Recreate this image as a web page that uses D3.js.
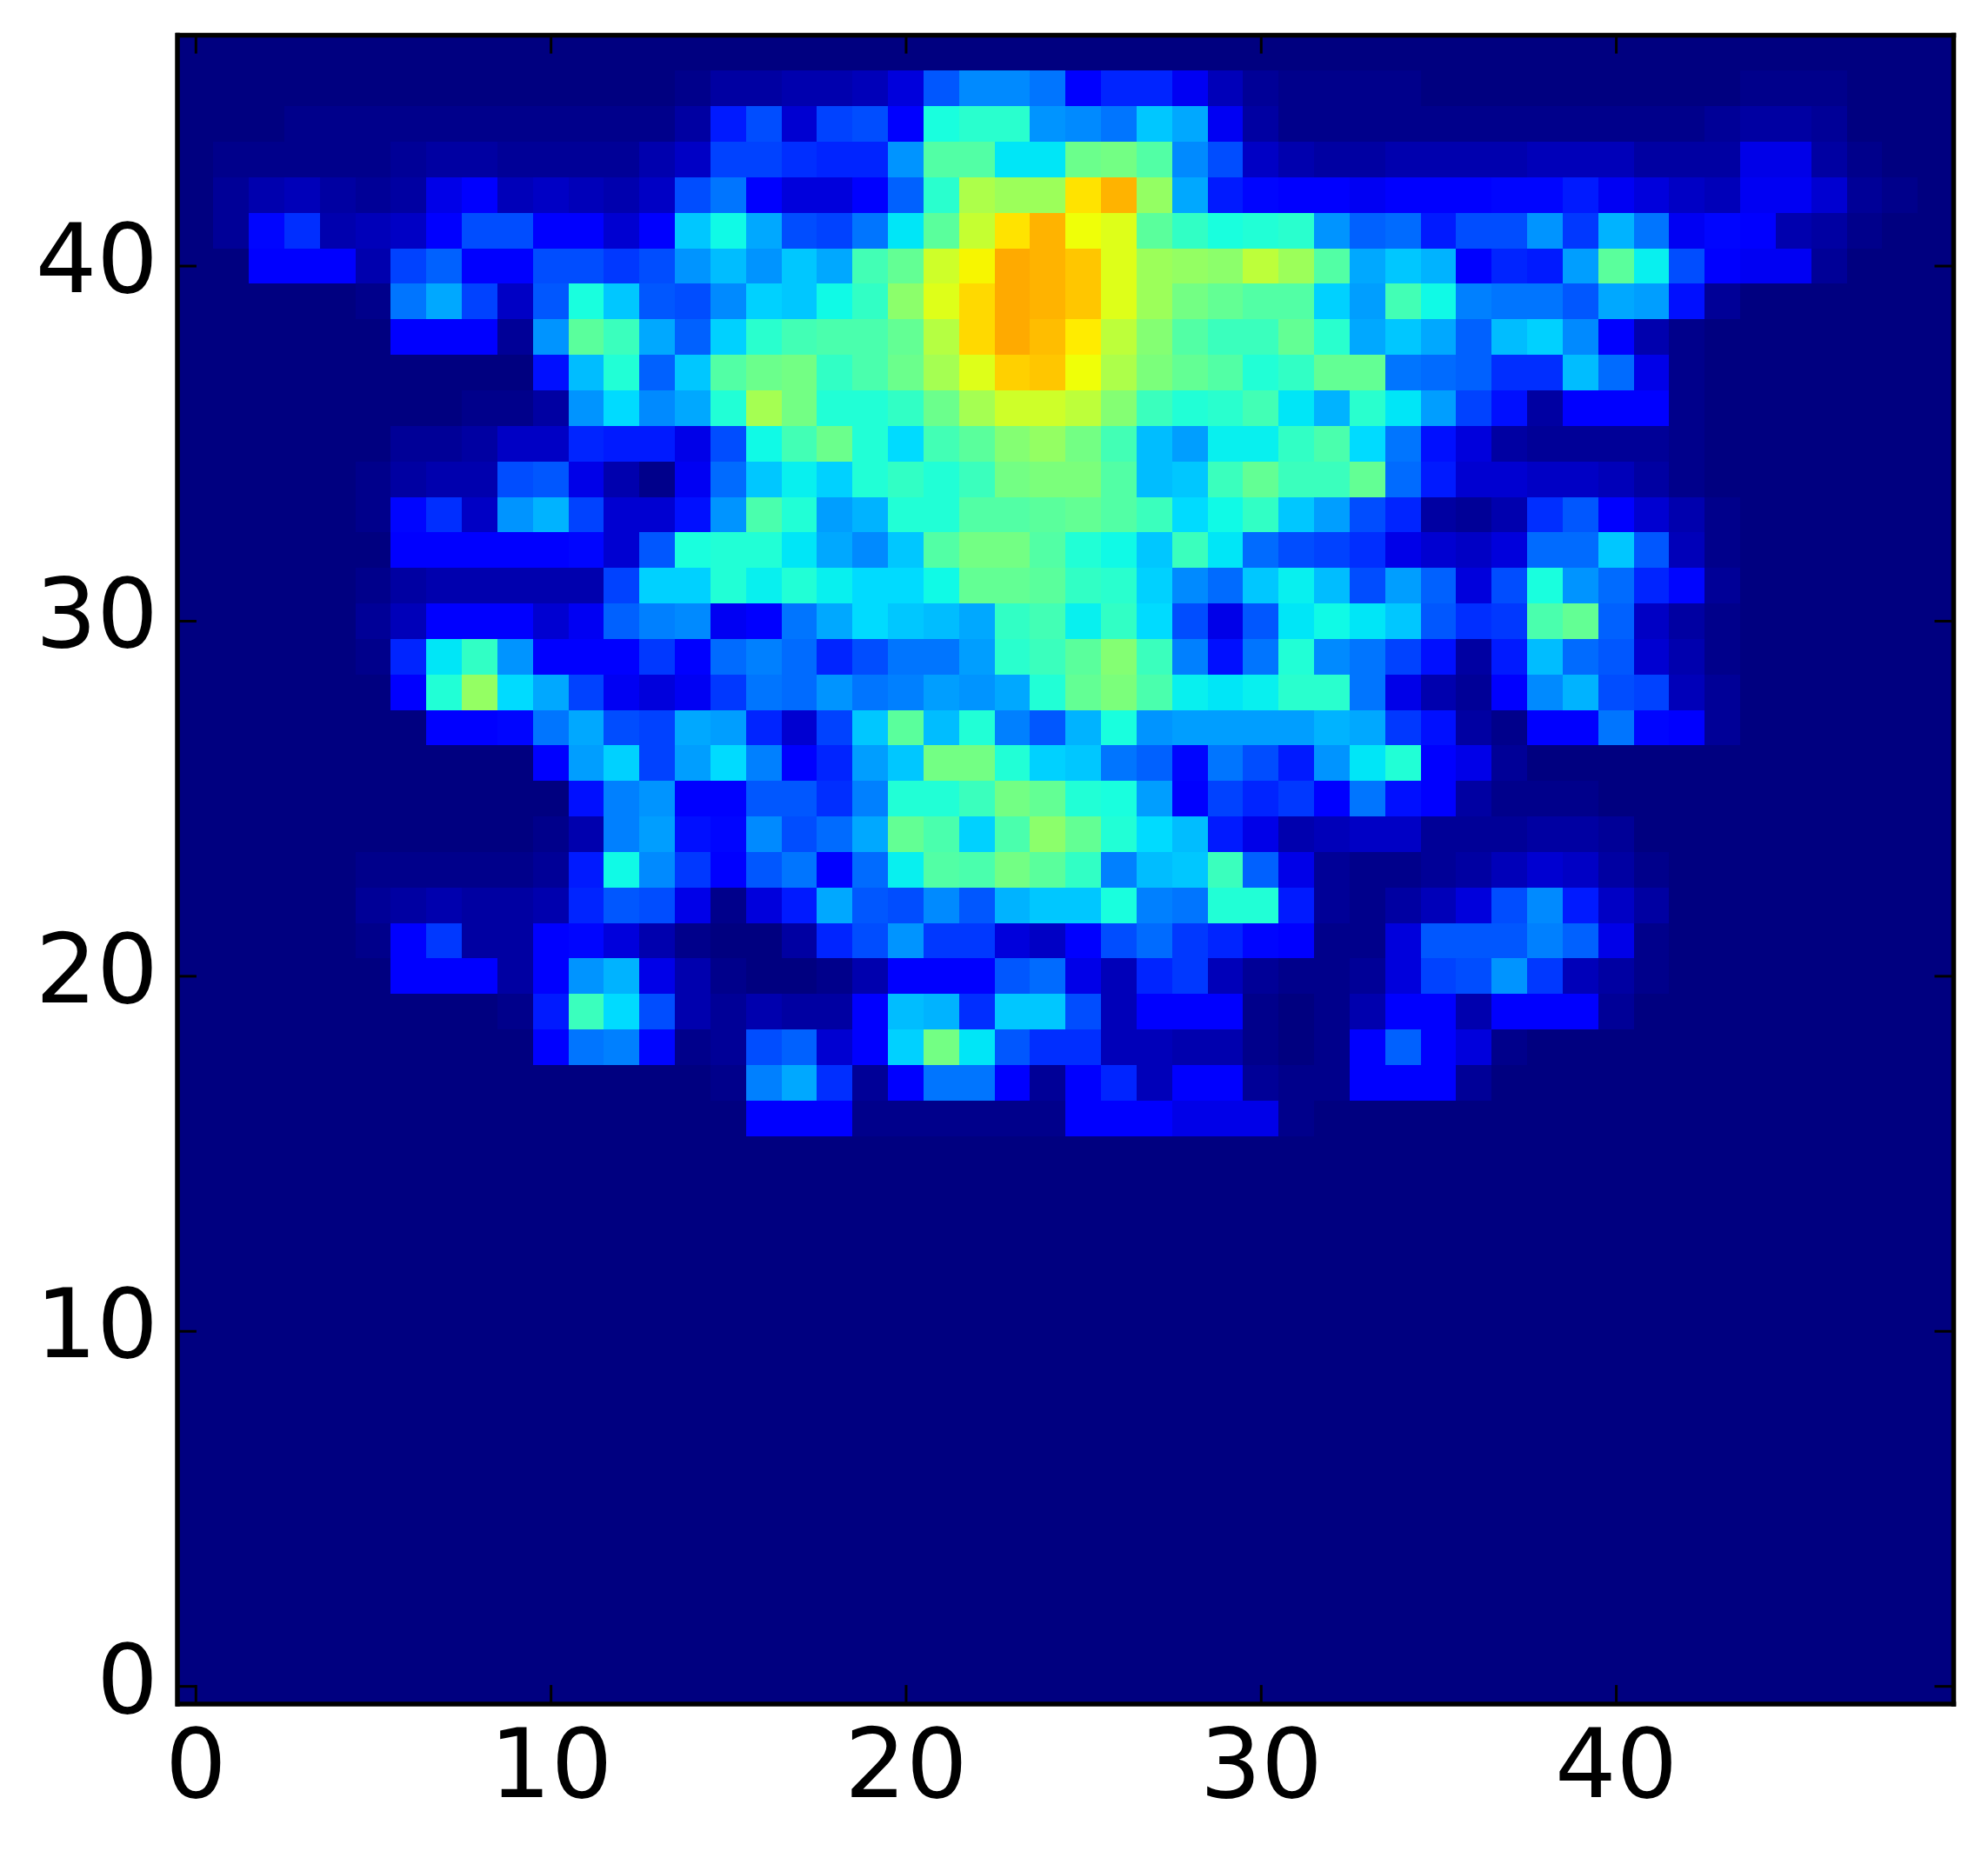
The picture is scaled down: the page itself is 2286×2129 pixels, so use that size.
<!DOCTYPE html>
<html>
<head>
<meta charset="utf-8">
<script src="https://cdn.jsdelivr.net/npm/d3@7"></script>
<style>
  html, body { margin: 0; padding: 0; background: #fff; }
  text { font-family: "DejaVu Sans", sans-serif; }
</style>
</head>
<body>
<div id="chart"></div>
<script>
var xTicks = [0, 10, 20, 30, 40];
var yTicks = [0, 10, 20, 30, 40];

var emptyRow = [0,0,0,0,0,0,0,0,0,0, 0,0,0,0,0,0,0,0,0,0, 0,0,0,0,0,0,0,0,0,0, 0,0,0,0,0,0,0,0,0,0, 0,0,0,0,0,0,0,0,0,0];

var row16 = [0,0,0,0,0,0,0,0,0,0, 0,0,0,0,0,0,12,12,12,1, 1,1,1,1,1,12,12,12,9,9, 9,1,0,0,0,0,0,0,0,0, 0,0,0,0,0,0,0,0,0,0];
var row17 = [0,0,0,0,0,0,0,0,0,0, 0,0,0,0,0,1,25,29,17,2, 11,24,24,11,2,12,16,5,12,12, 2,1,1,12,12,12,2,0,0,0, 0,0,0,0,0,0,0,0,0,0];
var row18 = [0,0,0,0,0,0,0,0,0,0, 12,24,25,13,1,2,20,22,7,11, 33,49,35,21,17,17,5,5,4,4, 1,0,1,12,22,11,8,1,0,0, 0,0,0,0,0,0,0,0,0,0];
var row19 = [0,0,0,0,0,0,0,0,0,1, 15,42,34,20,4,2,4,3,3,12, 31,30,17,32,32,20,5,12,12,12, 1,0,1,4,12,12,4,12,12,12, 2,0,0,0,0,0,0,0,0,0];
var row20 = [0,0,0,0,0,0,12,12,12,3, 12,27,30,9,4,1,0,0,1,4, 12,12,12,21,23,9,5,16,18,5, 2,1,1,2,8,19,20,27,18,5, 3,1,0,0,0,0,0,0,0,0];
var row21 = [0,0,0,0,0,1,12,18,3,3, 12,13,8,4,1,0,0,3,16,20, 27,18,18,8,6,11,20,23,18,16, 13,12,1,1,8,21,21,21,25,22, 9,1,0,0,0,0,0,0,0,0];
var row22 = [0,0,0,0,0,2,3,4,3,3, 4,16,21,20,9,1,8,15,29,21, 20,26,21,30,32,32,38,25,24,39, 39,15,2,1,3,5,8,20,26,15, 6,3,0,0,0,0,0,0,0,0];
var row23 = [0,0,0,0,0,1,1,1,1,1, 2,15,37,26,18,11,21,24,11,23, 36,45,44,49,46,41,25,31,32,42, 22,9,2,1,1,2,3,5,7,6, 3,1,0,0,0,0,0,0,0,0];
var row24 = [0,0,0,0,0,0,0,0,0,0, 1,4,25,28,14,13,26,20,23,29, 47,44,33,44,52,47,39,34,31,15, 9,4,5,6,6,2,2,2,3,3, 2,0,0,0,0,0,0,0,0,0];
var row25 = [0,0,0,0,0,0,0,0,0,0, 0,14,25,27,12,11,21,21,17,25, 39,39,42,49,47,39,38,28,12,19, 16,18,12,24,14,12,3,1,1,1, 0,0,0,0,0,0,0,0,0,0];
var row26 = [0,0,0,0,0,0,0,0,0,0, 12,28,33,19,28,34,25,12,16,28, 32,49,49,39,33,32,24,22,13,24, 20,15,27,35,39,12,9,2,0,0, 0,0,0,0,0,0,0,0,0,0];
var row27 = [0,0,0,0,0,0,0,12,12,13, 24,29,20,19,29,28,16,7,19,32, 46,31,39,25,21,30,38,27,28,28, 28,28,30,29,18,14,3,1,12,12, 24,13,11,2,0,0,0,0,0,0];
var row28 = [0,0,0,0,0,0,12,39,53,34, 29,19,10,8,10,18,24,23,27,24, 25,28,27,29,39,47,50,44,36,35, 36,40,40,24,9,4,2,11,26,30, 20,19,5,2,0,0,0,0,0,0];
var row29 = [0,0,0,0,0,1,16,35,41,27, 12,12,12,18,12,23,25,23,16,20, 24,24,28,40,42,46,51,42,25,14, 24,39,26,24,19,14,3,15,31,23, 21,7,4,1,0,0,0,0,0,0];
var row30 = [0,0,0,0,0,2,5,11,11,11, 7,10,22,25,26,10,11,24,29,34, 32,31,29,41,43,36,41,34,20,9, 21,35,37,35,32,21,17,18,44,47, 22,6,3,1,0,0,0,0,0,0];
var row31 = [0,0,0,0,0,1,3,4,4,4, 4,4,19,33,33,39,36,39,36,34, 34,37,47,47,46,41,40,33,26,23, 32,36,31,20,28,22,8,20,38,27, 23,16,13,2,0,0,0,0,0,0];
var row32 = [0,0,0,0,0,0,11,12,12,12, 12,13,7,21,38,39,39,35,29,26, 32,45,49,49,45,39,37,32,42,35, 23,20,19,17,9,7,6,8,23,23, 32,21,5,1,0,0,0,0,0,0];
var row33 = [0,0,0,0,0,1,13,17,6,27, 30,19,7,7,14,27,44,39,28,30, 39,39,45,45,46,47,45,42,34,37, 41,32,28,20,16,3,2,4,17,21, 11,7,4,1,0,0,0,0,0,0];
var row34 = [0,0,0,0,0,1,3,4,4,20, 21,9,4,1,10,23,32,36,33,39, 41,39,42,49,50,50,45,31,32,42, 47,42,42,47,23,15,7,7,6,6, 5,3,1,0,0,0,0,0,0,0];
var row35 = [0,0,0,0,0,0,2,2,3,6, 6,16,15,15,9,20,37,43,48,39, 34,43,46,51,53,49,43,31,28,36, 36,41,44,34,24,14,8,3,2,2, 2,2,1,0,0,0,0,0,0,0];
var row36 = [0,0,0,0,0,0,0,0,1,1, 3,27,34,26,29,39,55,49,39,39, 41,48,55,60,60,58,51,42,39,40, 43,35,30,40,35,28,19,14,3,11, 11,11,1,0,0,0,0,0,0,0];
var row37 = [0,0,0,0,0,0,0,0,0,0, 14,31,39,22,32,45,48,49,41,44, 48,55,62,69,70,64,56,50,47,45, 39,41,47,47,24,23,22,17,17,31, 23,9,1,0,0,0,0,0,0,0];
var row38 = [0,0,0,0,0,0,11,11,11,2, 27,46,42,29,22,33,40,43,44,44, 47,57,68,73,71,66,58,51,45,42, 42,47,40,29,32,29,22,31,33,26, 11,4,1,0,0,0,0,0,0,0];
var row39 = [0,0,0,0,0,1,24,29,19,6, 21,38,32,21,20,26,33,32,37,41, 52,62,68,73,72,70,62,54,49,47, 45,45,33,28,43,37,25,24,24,21, 29,28,14,2,0,0,0,0,0,0];
var row40 = [0,0,11,11,11,4,19,22,12,11, 20,20,18,20,27,31,27,32,29,43, 47,60,65,73,72,70,62,54,53,52, 58,54,45,29,32,30,11,16,15,28, 46,36,20,11,10,10,2,0,0,0];
var row41 = [0,2,13,17,4,5,6,12,20,20, 12,12,7,12,32,37,29,20,19,24, 35,46,59,67,72,64,62,46,41,38, 39,40,27,22,23,15,20,20,27,18, 30,24,10,13,12,4,3,1,0,0];
var row42 = [0,2,4,5,3,2,3,9,11,5, 6,5,4,6,20,24,11,8,8,11, 22,40,56,54,54,67,72,53,29,15, 13,12,11,10,12,12,12,13,13,15, 10,8,6,5,10,10,7,2,1,0];
var row43 = [0,1,1,1,1,1,2,3,3,2, 2,2,2,4,6,19,19,17,16,16, 27,45,45,35,35,48,49,45,26,20, 6,4,3,3,4,4,4,4,5,5, 5,3,3,3,9,9,3,1,0,0];
var row44 = [0,0,0,1,1,1,1,1,1,1, 1,1,1,1,3,15,20,7,19,20, 11,38,40,40,27,26,24,32,29,10, 3,1,1,1,1,1,1,1,1,1, 1,1,1,2,3,3,2,0,0,0];
var row45 = [0,0,0,0,0,0,0,0,0,0, 0,0,0,0,1,3,3,4,4,5, 8,21,26,26,24,11,16,16,10,5, 2,1,1,1,1,0,0,0,0,0, 0,0,0,0,1,1,1,0,0,0];

// Row index = y value, so rows 0..15 are empty and 46 is empty again.
var grid = d3.range(16).map(function() { return emptyRow; }).concat([
	row16, row17, row18, row19, row20, row21, row22, row23, row24, row25,
	row26, row27, row28, row29, row30, row31, row32, row33, row34, row35,
	row36, row37, row38, row39, row40, row41, row42, row43, row44, row45,
	emptyRow
]);

var width = 2286;
var height = 2129;
var margin = { left: 204.4, right: 40, top: 40.1, bottom: 169.4 };

var x = d3.scaleLinear()
	.domain([-0.5, 49.5])
	.range([margin.left, width - margin.right]);

var y = d3.scaleLinear()
	.domain([-0.5, 46.5])
	.range([height - margin.bottom, margin.top]);

// Matplotlib's jet, one piecewise channel each.
var red = d3.scaleLinear().domain([0, 35, 66, 89, 100]).range([0, 0, 255, 255, 127.5]);
var green = d3.scaleLinear().domain([0, 12.5, 37.5, 64, 91, 100]).range([0, 0, 255, 255, 0, 0]);
var blue = d3.scaleLinear().domain([0, 11, 34, 65, 100]).range([127.5, 255, 255, 0, 0]);

function jet(v) {
	return d3.rgb(red(v), green(v), blue(v)).formatHex();
}

var svg = d3.select("#chart").append("svg")
	.attr("width", width)
	.attr("height", height)
	.style("display", "block");

svg.append("rect")
	.attr("width", width)
	.attr("height", height)
	.attr("fill", "#fff");

var cells = [];
grid.forEach(function(row, r) {
	row.forEach(function(v, c) {
		cells.push({ c: c, r: r, v: v });
	});
});

svg.append("g")
	.attr("shape-rendering", "crispEdges")
	.selectAll("rect")
	.data(cells)
	.enter().append("rect")
	.attr("x", function(d) { return x(d.c - 0.5); })
	.attr("y", function(d) { return y(d.r + 0.5); })
	.attr("width", x(1) - x(0) + 0.5)
	.attr("height", y(0) - y(1) + 0.5)
	.attr("fill", function(d) { return jet(d.v); });

var tickLen = 21.5;
var plotW = width - margin.right - margin.left;
var plotH = height - margin.bottom - margin.top;

// Ticks point inward on all four sides; only bottom and left carry labels.
var bottom = d3.axisBottom(x).tickValues(xTicks).tickSizeInner(-tickLen).tickSizeOuter(0).tickPadding(28.2);
var left = d3.axisLeft(y).tickValues(yTicks).tickSizeInner(-tickLen).tickSizeOuter(0).tickPadding(22.5);
var top_ = d3.axisTop(x).tickValues(xTicks).tickSizeInner(-tickLen).tickSizeOuter(0).tickFormat("");
var right = d3.axisRight(y).tickValues(yTicks).tickSizeInner(-tickLen).tickSizeOuter(0).tickFormat("");

function addAxis(axis, tx, ty) {
	var g = svg.append("g")
		.attr("transform", "translate(" + tx + "," + ty + ")")
		.call(axis);
	g.attr("font-size", null).attr("font-family", null);
	g.select(".domain").attr("stroke", "#000").attr("stroke-width", 5.5).attr("stroke-linecap", "square");
	g.selectAll(".tick line").attr("stroke", "#000").attr("stroke-width", 3);
	g.selectAll(".tick text")
		.attr("fill", "#000")
		.style("font-size", "111px");
	return g;
}

addAxis(top_, 0, margin.top);
addAxis(right, margin.left + plotW, 0);
addAxis(bottom, 0, margin.top + plotH);
var leftAxis = addAxis(left, margin.left, 0);
// matplotlib centres the label a little above the tick
leftAxis.selectAll(".tick text").attr("dy", "0.27em");
leftAxis.select(".domain").attr("transform", "translate(-0.9,0)");
</script>
</body>
</html>
